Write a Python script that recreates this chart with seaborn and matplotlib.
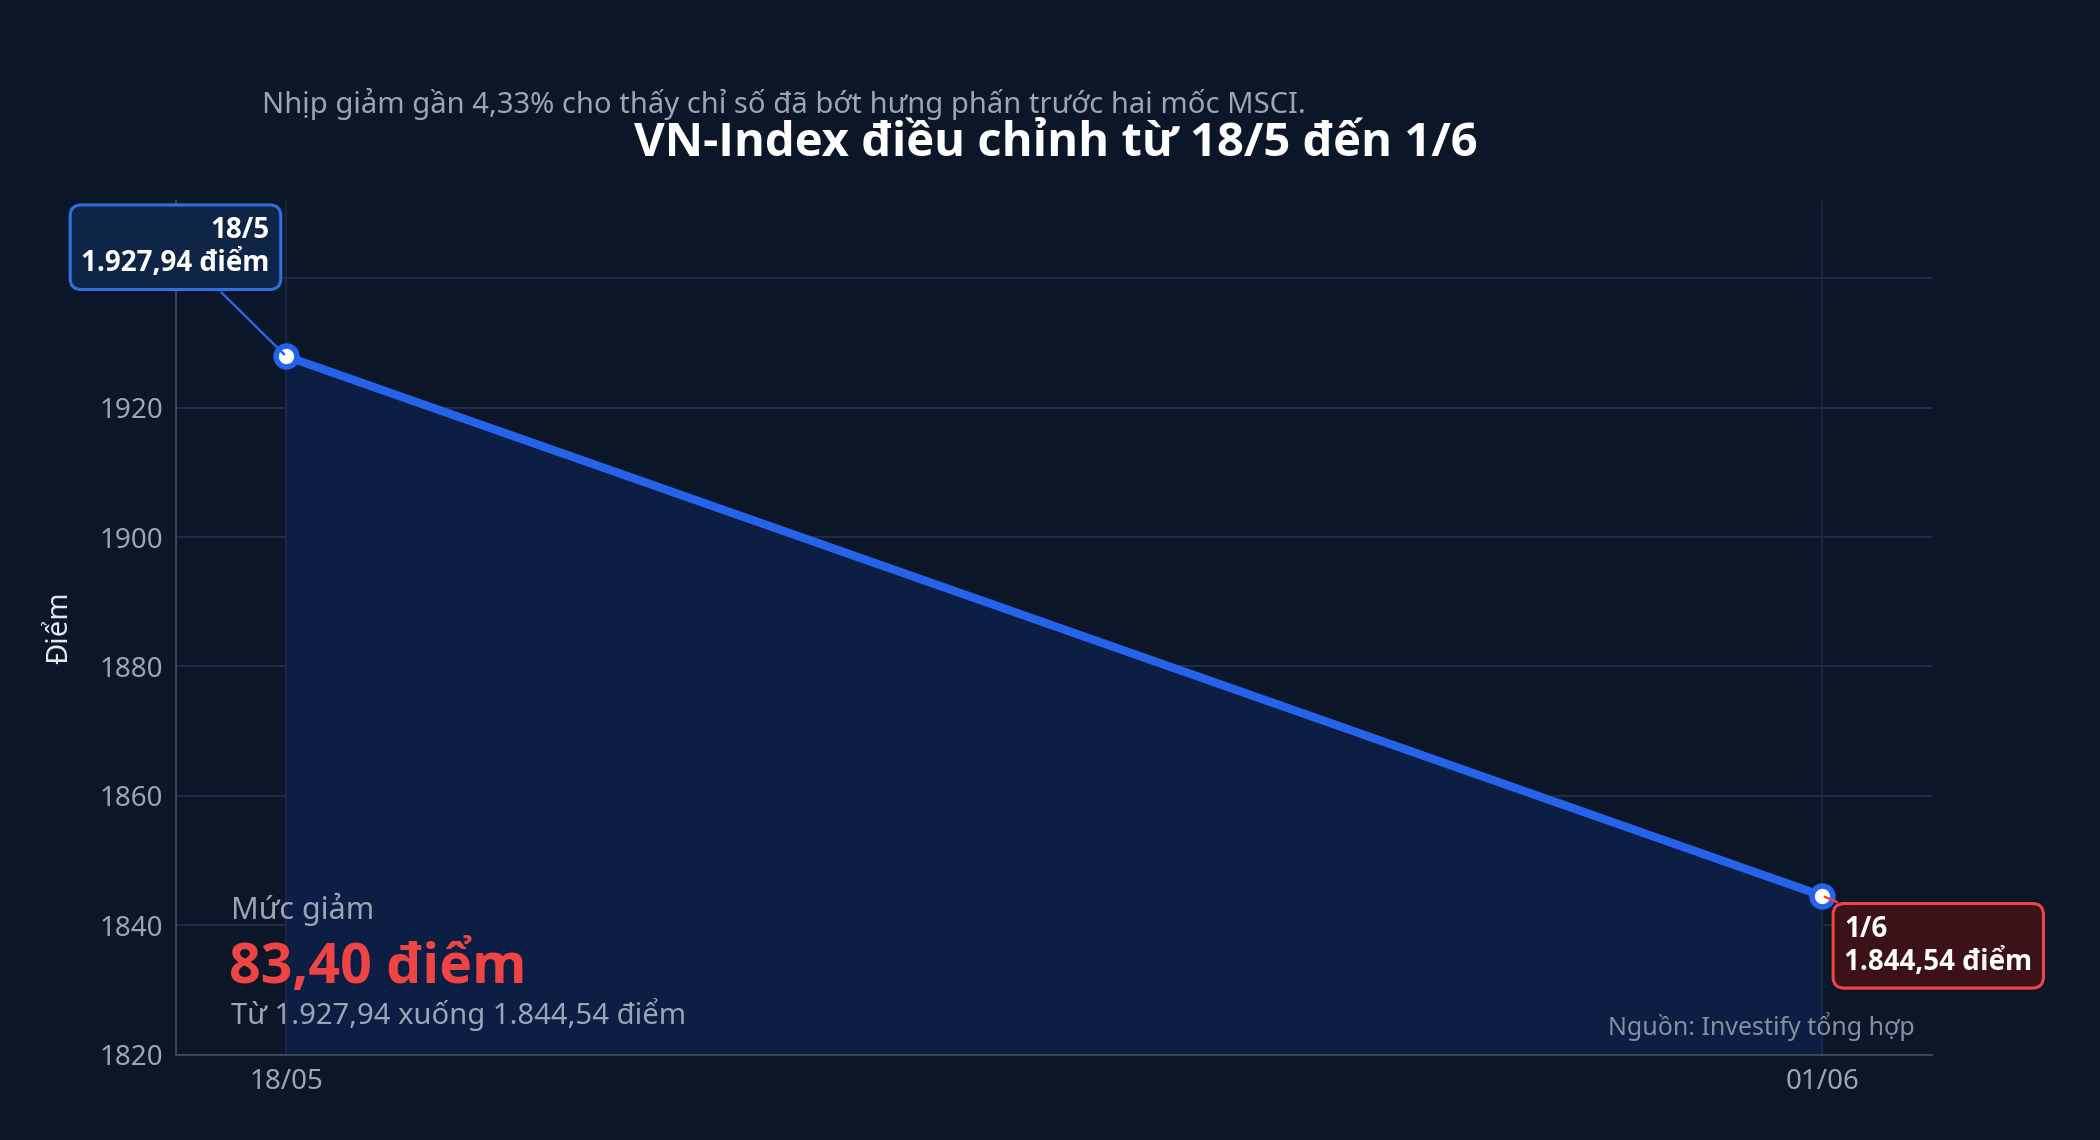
import pandas as pd
import seaborn as sns
from matplotlib import pyplot as plt

dates = ["18/05", "01/06"]
day_offsets = [0, 14]
values = [1927.94, 1844.54]
y_ticks = [1820, 1840, 1860, 1880, 1900, 1920, 1940]

bg = "#0b1628"
line_color = "#2563eb"

sns.set_theme(style="dark")
plt.rcParams["font.family"] = ["Noto Sans", "DejaVu Sans"]
bold_family = ["Open Sans", "Noto Sans", "DejaVu Sans"]

df = pd.DataFrame({"day": day_offsets, "value": values})

fig = plt.figure(figsize=(21, 11.4), dpi=100, facecolor=bg)
ax = fig.add_axes([0.084, 0.075, 0.836, 0.749])
ax.set_facecolor(bg)

ax.fill_between(df["day"], df["value"], 1820, color="#0d1f45", alpha=0.95, zorder=1)
for d in day_offsets:
    ax.axvline(d, color="#1c2a44", lw=1.2, zorder=1)
sns.lineplot(data=df, x="day", y="value", ax=ax, color=line_color, lw=6, zorder=3,
             marker="o", markersize=15, markerfacecolor="white",
             markeredgecolor=line_color, markeredgewidth=4)

ax.set_xlim(-1, 15)
ax.set_ylim(1820, 1952)
ax.set_yticks(y_ticks[:-1])
ax.set_xticks(day_offsets)
ax.set_xticklabels(dates)
for y in y_ticks:
    ax.axhline(y, color="#24324a", lw=1.2, zorder=0)
ax.tick_params(colors="#9aa6b8", labelsize=20, length=6, color="#3a4658")
ax.set_xlabel("")
ax.set_ylabel("Điểm", color="#e6e9ef", fontsize=21, labelpad=18)
for s in ["top", "right"]:
    ax.spines[s].set_visible(False)
for s in ["left", "bottom"]:
    ax.spines[s].set_color("#3a4658")
    ax.spines[s].set_linewidth(1.5)

# point labels
ax.annotate("18/5\n1.927,94 điểm", xy=(0, values[0]), xytext=(-0.15, 1944.8),
            ha="right", va="center", fontsize=20, fontweight="bold", color="white",
            family=bold_family, multialignment="right", annotation_clip=False,
            bbox=dict(boxstyle="round,pad=0.4", fc="#0f2547", ec="#2f6fe0", lw=2.2),
            arrowprops=dict(arrowstyle="-", color=line_color, lw=1.8))
ax.annotate("1/6\n1.844,54 điểm", xy=(14, values[1]), xytext=(14.2, 1836.8),
            ha="left", va="center", fontsize=20, fontweight="bold", color="white",
            family=bold_family, multialignment="left", annotation_clip=False,
            bbox=dict(boxstyle="round,pad=0.4", fc="#3d1118", ec="#ef4444", lw=2.2),
            arrowprops=dict(arrowstyle="-", color="#ef4444", lw=1.8))

# summary block
fig.text(0.110, 0.194, "Mức giảm", color="#9aa6b8", fontsize=22)
fig.text(0.109, 0.138, "83,40 điểm", color="#ef4444", fontsize=40, fontweight="bold",
         family=bold_family)
fig.text(0.110, 0.102, "Từ 1.927,94 xuống 1.844,54 điểm", color="#9aa6b8", fontsize=21)
fig.text(0.912, 0.092, "Nguồn: Investify tổng hợp", color="#8290a4", fontsize=18, ha="right")

fig.text(0.503, 0.874, "VN-Index điều chỉnh từ 18/5 đến 1/6", color="white", fontsize=34,
         fontweight="bold", family=bold_family, ha="center", va="center")
fig.text(0.125, 0.909, "Nhịp giảm gần 4,33% cho thấy chỉ số đã bớt hưng phấn trước hai mốc MSCI.",
         color="#9aa6b8", fontsize=21, ha="left", va="center")

fig.savefig("out.png", dpi=100, facecolor=bg)
